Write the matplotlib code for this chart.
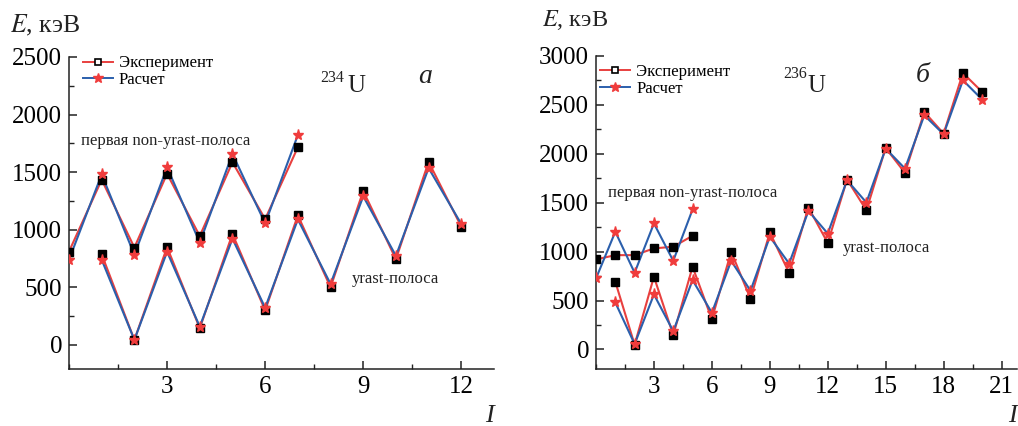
import matplotlib
matplotlib.use("Agg")
import matplotlib.pyplot as plt
from matplotlib.lines import Line2D
from matplotlib.ticker import MultipleLocator

plt.rcParams['font.family'] = ['Liberation Serif', 'DejaVu Serif']
plt.rcParams['mathtext.fontset'] = 'stix'

# ---------------- data: 234U ----------------
I_nonyrast_234 = [0, 1, 2, 3, 4, 5, 6, 7]
exp_nonyrast_234 = [810, 1434, 845, 1486, 945, 1586, 1092, 1716]
calc_nonyrast_234 = [739, 1480, 782, 1543, 888, 1658, 1055, 1822]

I_yrast_234 = [1, 2, 3, 4, 5, 6, 7, 8, 9, 10, 11, 12]
exp_yrast_234 = [785, 43, 848, 144, 963, 299, 1124, 500, 1336, 744, 1589, 1026]
calc_yrast_234 = [739, 43, 808, 158, 922, 322, 1089, 529, 1290, 773, 1535, 1049]

# ---------------- data: 236U ----------------
I_nonyrast_236 = [0, 1, 2, 3, 4, 5]
exp_nonyrast_236 = [920, 964, 964, 1033, 1050, 1162]
calc_nonyrast_236 = [726, 1203, 784, 1288, 906, 1431]

I_yrast_236 = list(range(1, 21))
exp_yrast_236 = [692, 48, 743, 147, 845, 310, 999, 518, 1196, 783,
                 1451, 1089, 1737, 1423, 2060, 1805, 2428, 2207, 2826, 2632]
calc_yrast_236 = [480, 55, 562, 187, 709, 375, 906, 600, 1152, 878,
                  1416, 1185, 1730, 1502, 2054, 1849, 2394, 2200, 2752, 2554]

legend_labels = ['Эксперимент', 'Расчет']

RED = '#e8403f'
BLUE = '#2b5fac'
STAR = '#f03c3c'

W, H = 1018, 426
fig = plt.figure(figsize=(W / 100, H / 100), dpi=100)


def px_axes(x0, y_top, x1, y_bot):
    return fig.add_axes([x0 / W, 1 - y_bot / H, (x1 - x0) / W, (y_bot - y_top) / H])


def style(ax, xmax, ymin, ymax, xticks):
    ax.set_xlim(0, xmax)
    ax.set_ylim(ymin, ymax)
    for s in ['top', 'right']:
        ax.spines[s].set_visible(False)
    for s in ['left', 'bottom']:
        ax.spines[s].set_linewidth(1.1)
        ax.spines[s].set_color('#222222')
    ax.set_xticks(xticks)
    ax.xaxis.set_minor_locator(MultipleLocator(1.5))
    ax.yaxis.set_minor_locator(MultipleLocator(250))
    ax.set_yticks([t for t in range(0, int(ymax) + 1, 500)])
    ax.tick_params(which='major', direction='in', length=6, width=1.1,
                   labelsize=18, color='#222222', pad=5)
    ax.tick_params(which='minor', direction='in', length=3.5, width=1.0,
                   color='#222222')


def draw_band(ax, I, exp, calc):
    ax.plot(I, exp, color=RED, lw=1.5, zorder=2)
    ax.plot(I, calc, color=BLUE, lw=1.5, zorder=2)
    ax.plot(I, exp, ls='none', marker='s', ms=5.2, mfc='black', mec='black', zorder=3)
    ax.plot(I, calc, ls='none', marker='*', ms=8, mfc=STAR, mec=STAR, zorder=4)


def add_legend(ax, anchor):
    handles = [
        Line2D([], [], color=RED, lw=1.4, marker='s', ms=4.5, mfc='white', mec='black', mew=1.2),
        Line2D([], [], color=BLUE, lw=1.4, marker='*', ms=7.5, mfc=STAR, mec=STAR),
    ]
    ax.legend(handles, legend_labels, loc='upper left', bbox_to_anchor=anchor,
              frameon=False, fontsize=12, handlelength=1.8, handletextpad=0.35,
              labelspacing=0.05, borderpad=0, borderaxespad=0)


def ftext(x, y, s, **kw):
    fig.text(x / W, 1 - y / H, s, **kw)


# ---------------- left panel ----------------
ax1 = px_axes(69, 57, 494, 369)
draw_band(ax1, I_nonyrast_234, exp_nonyrast_234, calc_nonyrast_234)
draw_band(ax1, I_yrast_234, exp_yrast_234, calc_yrast_234)
style(ax1, 13, -210, 2500, [3, 6, 9, 12])
add_legend(ax1, (0.033, 1.005))

# ---------------- right panel ----------------
ax2 = px_axes(596, 56, 1017, 369)
draw_band(ax2, I_nonyrast_236, exp_nonyrast_236, calc_nonyrast_236)
draw_band(ax2, I_yrast_236, exp_yrast_236, calc_yrast_236)
style(ax2, 21.8, -200, 3000, [3, 6, 9, 12, 15, 18, 21])
add_legend(ax2, (0.01, 0.975))

# ---------------- texts ----------------
txt = dict(color='#222222')
# axis titles
ftext(10, 32, r'$\mathit{E}$, кэВ', fontsize=18.5, va='baseline', **txt)
ftext(542, 26, r'$\mathit{E}$, кэВ', fontsize=17.5, va='baseline', **txt)
ftext(485, 422, 'I', fontsize=19, style='italic', va='baseline', **txt)
ftext(1008, 422, 'I', fontsize=19, style='italic', va='baseline', **txt)

# nuclei labels
ftext(320, 82, '234', fontsize=11.5, va='baseline', **txt)
ftext(347, 92, 'U', fontsize=18, va='baseline', **txt)
ftext(418, 83, 'а', fontsize=20, style='italic', va='baseline', **txt)
ftext(783, 78, '236', fontsize=11.5, va='baseline', **txt)
ftext(807, 92, 'U', fontsize=18, va='baseline', **txt)
ftext(916, 82, 'б', fontsize=20, style='italic', va='baseline', **txt)

# band labels
ftext(81, 145, 'первая non-yrast-полоса', fontsize=12, va='baseline', **txt)
ftext(352, 283, 'yrast-полоса', fontsize=12, va='baseline', **txt)
ftext(608, 197, 'первая non-yrast-полоса', fontsize=12, va='baseline', **txt)
ftext(843, 252, 'yrast-полоса', fontsize=12, va='baseline', **txt)

fig.savefig('out.png', dpi=100)
